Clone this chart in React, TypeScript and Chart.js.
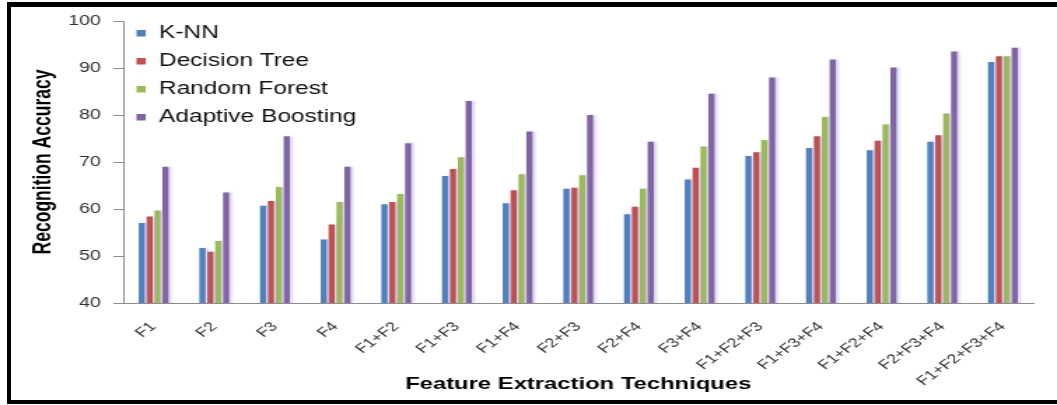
import { useEffect, useRef } from "react";
import { Chart, registerables } from "chart.js";

Chart.register(...registerables);

const categories = [
  "F1", "F2", "F3", "F4", "F1+F2", "F1+F3", "F1+F4", "F2+F3", "F2+F4", "F3+F4",
  "F1+F2+F3", "F1+F3+F4", "F1+F2+F4", "F2+F3+F4", "F1+F2+F3+F4",
];
const knnValues = [57.0, 51.7, 60.7, 53.5, 61.0, 67.0, 61.2, 64.3, 58.9, 66.3, 71.3, 73.0, 72.5, 74.3, 91.3];
const decisionTreeValues = [58.4, 50.9, 61.7, 56.7, 61.5, 68.5, 64.0, 64.5, 60.5, 68.8, 72.1, 75.5, 74.5, 75.7, 92.5];
const randomForestValues = [59.7, 53.2, 64.7, 61.5, 63.2, 71.0, 67.4, 67.2, 64.3, 73.3, 74.7, 79.6, 78.0, 80.3, 92.5];
const adaBoostValues = [69.0, 63.5, 75.5, 69.0, 74.0, 83.0, 76.5, 80.0, 74.3, 84.5, 88.0, 91.8, 90.1, 93.5, 94.3];
const seriesNames = ["K-NN", "Decision Tree", "Random Forest", "Adaptive Boosting"];
const seriesColors = ["#4F81BD", "#C0504D", "#9BBB59", "#8064A2"];
const yMin = 40;
const yMax = 100;
const yStep = 10;

const FONT = "'Liberation Sans', Arial, sans-serif";
// internal canvas is narrower and stretched horizontally, like the reference picture
const INTERNAL_W = 755;
const H = 405;

const legendPlugin = {
  id: "insideLegend",
  afterDraw(chart: any) {
    const ctx = chart.ctx;
    ctx.save();
    ctx.font = `17.5px ${FONT}`;
    ctx.textBaseline = "middle";
    ctx.textAlign = "left";
    chart.data.datasets.forEach((ds: any, i: number) => {
      const y = 33 + i * 28;
      ctx.fillStyle = ds.backgroundColor;
      ctx.fillRect(97.5, y - 3, 6.6, 6.5);
      ctx.fillStyle = "#111";
      ctx.fillText(ds.label, 113.5, y);
    });
    ctx.restore();
  },
};

const shadowPlugin = {
  id: "barShadow",
  beforeDatasetsDraw(chart: any) {
    const ctx = chart.ctx;
    ctx.save();
    ctx.shadowColor = "rgba(170,150,215,0.45)";
    ctx.shadowOffsetX = 2;
    ctx.shadowOffsetY = 0;
    ctx.shadowBlur = 2;
  },
  afterDatasetsDraw(chart: any) {
    chart.ctx.restore();
  },
};

export default function App() {
  const canvasRef = useRef<HTMLCanvasElement | null>(null);

  useEffect(() => {
    if (!canvasRef.current) return;
    const seriesValues = [knnValues, decisionTreeValues, randomForestValues, adaBoostValues];
    const chart = new Chart(canvasRef.current, {
      type: "bar",
      data: {
        labels: categories,
        datasets: seriesNames.map((name, i) => ({
          label: name,
          data: seriesValues[i],
          backgroundColor: seriesColors[i],
          borderWidth: 0,
          categoryPercentage: 0.52,
          barPercentage: 0.77,
        })),
      },
      options: {
        responsive: false,
        animation: false,
        devicePixelRatio: 1,
        layout: { padding: { top: 21, right: 17, left: 0, bottom: 0 } },
        plugins: {
          legend: { display: false },
          tooltip: { enabled: false },
        },
        scales: {
          x: {
            grid: { display: false },
            border: { display: true, color: "#8c8c8c", width: 1 },
            ticks: {
              color: "#333",
              font: { family: FONT, size: 13 },
              minRotation: 45,
              maxRotation: 45,
              autoSkip: false,
              padding: 8,
            },
            title: {
              display: true,
              text: "Feature Extraction Techniques",
              color: "#000",
              font: { family: FONT, size: 17, weight: "bold" },
              padding: { top: 0, bottom: 10 },
            },
            afterFit: (s: any) => {
              s.height = 102;
            },
          },
          y: {
            min: yMin,
            max: yMax,
            ticks: {
              stepSize: yStep,
              color: "#333",
              font: { family: FONT, size: 14 },
              padding: 9,
            },
            grid: { drawOnChartArea: false, drawTicks: true, tickLength: 7, color: "#8c8c8c" },
            border: { display: true, color: "#8c8c8c", width: 1 },
            title: {
              display: true,
              text: "Recognition Accuracy",
              color: "#000",
              font: { family: FONT, size: 17.5, weight: "bold" },
              padding: { top: 21, bottom: 0 },
            },
            afterFit: (s: any) => {
              s.width = 88;
            },
          },
        },
      },
      plugins: [shadowPlugin, legendPlugin],
    } as any);
    return () => chart.destroy();
  }, []);

  return (
    <div style={{ position: "fixed", left: 0, top: 0, width: 1057, height: H, background: "#fff" }}>
      <canvas
        ref={canvasRef}
        width={INTERNAL_W}
        height={H}
        style={{ width: "1057px", height: `${H}px`, display: "block" }}
      />
      <div
        style={{
          position: "absolute",
          left: 7,
          top: 2,
          right: 0,
          bottom: 1,
          borderLeft: "4px solid #000",
          borderTop: "5px solid #000",
          borderBottom: "4px solid #000",
          boxSizing: "border-box",
          pointerEvents: "none",
        }}
      />
    </div>
  );
}
